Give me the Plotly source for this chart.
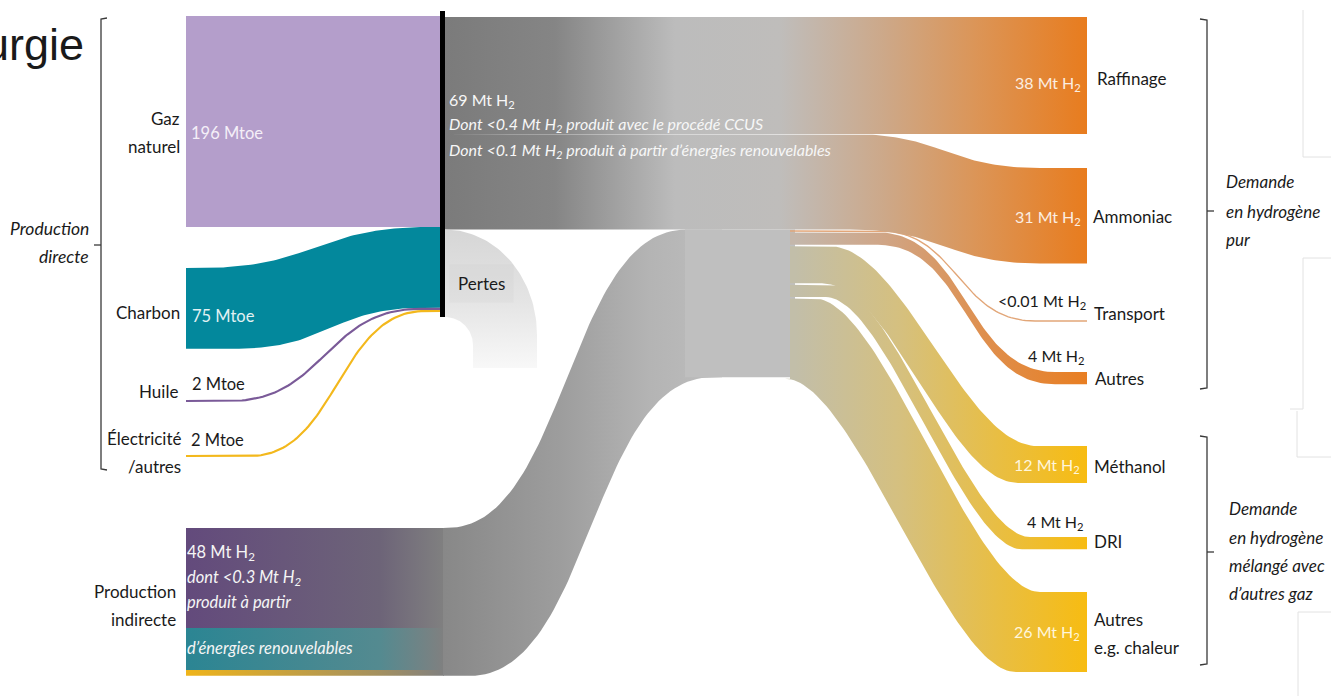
import numpy as np
import plotly.graph_objects as go

# ---------------- data ----------------
direct_sources = ["Gaz naturel", "Charbon", "Huile", "Électricité /autres"]
direct_mtoe = [196, 75, 2, 2]                 # Mtoe
direct_labels = ["196 Mtoe", "75 Mtoe", "2 Mtoe", "2 Mtoe"]
h2_direct = 69                                 # Mt H2 produced directly
h2_indirect = 48                               # Mt H2 indirect production
indirect_parts = [32.5, 13.6, 1.9]             # estimated split of the 48 Mt bar (purple / teal / yellow)
uses = ["Raffinage", "Ammoniac", "Transport", "Autres", "Méthanol", "DRI", "Autres e.g. chaleur"]
uses_mt = [38, 31, 0.01, 4, 12, 4, 26]         # Mt H2
uses_labels = ["38 Mt H<sub>2</sub>", "31 Mt H<sub>2</sub>", "<0.01 Mt H<sub>2</sub>", "4 Mt H<sub>2</sub>",
               "12 Mt H<sub>2</sub>", "4 Mt H<sub>2</sub>", "26 Mt H<sub>2</sub>"]

# ---------------- layout constants (positions / scales / styles) ----------------
W, H = 1331, 696
K_E = 211 / 196      # px per Mtoe
K_H = 3.08           # px per Mt H2
FONT = "Lato"

fig = go.Figure()


def bez(x0, x1, y0, y1, a=0.5, n=70):
    t = np.linspace(0, 1, n)
    L = x1 - x0
    xa, xb = x0 + a * L, x1 - a * L
    x = (1 - t) ** 3 * x0 + 3 * (1 - t) ** 2 * t * xa + 3 * (1 - t) * t ** 2 * xb + t ** 3 * x1
    y = (1 - t) ** 3 * y0 + 3 * (1 - t) ** 2 * t * y0 + 3 * (1 - t) * t ** 2 * y1 + t ** 3 * y1
    return list(x), list(y)


def edge(xa, xb, ya, yb, c, a=0.5):
    bx, by = bez(c[0], c[1], ya, yb, a)
    return [xa] + bx + [xb], [ya] + by + [yb]


def band_poly(xa, xb, ya, yb, th, ct, cb=None, a=0.5):
    cb = cb or ct
    tx, ty = edge(xa, xb, ya, yb, ct, a)
    bx, by = edge(xa, xb, ya + th, yb + th, cb, a)
    return tx + bx[::-1] + [tx[0]], ty + by[::-1] + [ty[0]]


def rect(x0, x1, y0, y1):
    return [x0, x1, x1, x0, x0], [y0, y0, y1, y1, y0]


def fill(xs, ys, stops=None, color=None, orient="horizontal"):
    kw = dict(x=xs, y=ys, mode="lines", line=dict(width=0), fill="toself",
              hoverinfo="skip", showlegend=False)
    if stops:
        lo, hi = stops[0][0], stops[-1][0]
        cs = [[(p - lo) / (hi - lo), c] for p, c in stops]
        kw["fillgradient"] = dict(type=orient, colorscale=cs, start=lo, stop=hi)
    else:
        kw["fillcolor"] = color
    fig.add_trace(go.Scatter(**kw))


def line(xs, ys, color, width):
    fig.add_trace(go.Scatter(x=xs, y=ys, mode="lines", line=dict(color=color, width=width),
                             hoverinfo="skip", showlegend=False))


# ---------------- indirect production ----------------
X_L, X_BAR, X_BLOCK0, X_BLOCK1, X_END = 186, 444, 685, 795, 1087
Y_TOP = 17
y_dir_bot = Y_TOP + h2_direct * K_H
ind_top = 528
ind_th = h2_indirect * K_H
ind_cols = [("#634a7c", "#6d6478"), ("#2b8593", "#548a90"), ("#efb41a", "#a39060")]
cur = ind_top
for v, (c0, c1) in zip(indirect_parts, ind_cols):
    th = v * K_H
    xs, ys = rect(X_L, X_BAR, cur, cur + th)
    fill(xs, ys, stops=[(X_L, c0), (380, c1), (X_BAR, "#808080")])
    cur += th

# S-band up to the mixing block
xs, ys = band_poly(X_BAR - 1, 722, ind_top, y_dir_bot, ind_th, ct=(447, 686), cb=(470, 712))
fill(xs, ys, stops=[(X_BAR, "#888888"), (560, "#9d9d9d"), (650, "#b4b4b4"), (720, "#bdbdbd")])
xs, ys = rect(X_BLOCK0, X_BLOCK1, y_dir_bot, y_dir_bot + ind_th)
fill(xs, ys, color="#bfbfbf")

# ---------------- outputs from the block ----------------
orange_stops = [(X_BLOCK1, "#c4b7ab"), (880, "#cfa688"), (980, "#de9050"), (X_END, "#e87e22")]
yellow_stops = [(X_BLOCK1, "#c2bea9"), (900, "#d5c07f"), (1000, "#e9be42"), (X_END, "#f7bc12")]
dest_top = [None, 168, 321, 372, 446, 537, 592]
# (top-edge curve range, bottom-edge curve range, curve tension)
curves = [None, None,
          ((880, 1035), None, 0.5),
          ((878, 1055), None, 0.5),
          ((830, 1037), (822, 1018), 0.35),
          ((832, 1030), (826, 1022), 0.3),
          ((815, 1040), (785, 1016), 0.3)]
gap = 1.5
cur = y_dir_bot
for i in range(2, 7):
    th = uses_mt[i] * K_H
    cur += gap
    ct, cb, a = curves[i]
    if th < 1.5:
        lx, ly = edge(X_BLOCK1 - 5, X_END, cur, dest_top[i], ct, a)
        line(lx, ly, "#e2a678", 1.4)
        continue
    xs, ys = band_poly(X_BLOCK1 - 5, X_END, cur, dest_top[i], th, ct=ct, cb=cb, a=a)
    fill(xs, ys, stops=orange_stops if i < 4 else yellow_stops)
    cur += th

# ---------------- direct H2 band: raffinage + ammoniac ----------------
main_stops = [(445, "#7b7b7b"), (555, "#858585"), (675, "#bcbcbc"), (780, "#bfbdbb"),
              (880, "#cca98b"), (980, "#dc9455"), (X_END, "#e87c1e")]
th_r = uses_mt[0] * K_H
xs, ys = rect(445, X_END, Y_TOP, Y_TOP + th_r)
fill(xs, ys, stops=main_stops)
xs, ys = band_poly(445, X_END, Y_TOP + th_r, dest_top[1], uses_mt[1] * K_H, ct=(850, 1040))
fill(xs, ys, stops=main_stops)

# ---------------- direct production (left) ----------------
gas_th = direct_mtoe[0] * K_E
xs, ys = rect(X_L, 441, 16, 16 + gas_th)
fill(xs, ys, color="#b49ecb")
right_cur = 16 + gas_th
coal_th = direct_mtoe[1] * K_E
xs, ys = band_poly(X_L, 441, 268, right_cur, coal_th, ct=(200, 430), cb=(235, 425))
fill(xs, ys, color="#03889c")
right_cur += coal_th
thin = [(401, "#7a5a98", (230, 420)), (456, "#f3b81c", (250, 425))]
for v, (ly0, col, c) in zip(direct_mtoe[2:], thin):
    th = v * K_E
    lx, ly = edge(X_L, 441, ly0, right_cur + th / 2, c)
    line(lx, ly, col, max(th, 2))
    right_cur += th

# Pertes (losses)
bar_bot = right_cur + 5
t = np.linspace(-np.pi / 2, 0, 50)
ocy = 335
ox = list(445 + 92 * np.cos(t)); oy = list(ocy + (ocy - y_dir_bot) * np.sin(t))
icy = bar_bot + 28
it = t[::-1]
ix = list(445 + 28 * np.cos(it)); iy = list(icy + 28 * np.sin(it))
px = [445] + ox + [537, 473] + ix + [445]
py = [y_dir_bot] + oy + [368, 368] + iy + [y_dir_bot]
fill(px, py, stops=[(y_dir_bot, "#d6d6d6"), (300, "#e4e4e4"), (368, "#f8f8f8")], orient="vertical")

# black bar
line([442.5, 442.5], [11, bar_bot], "#000000", 5)

# ---------------- brackets & faint frame lines ----------------
bk = "#3a3a3a"
line([107, 101, 101, 107], [18, 19, 469, 470], bk, 1.3)
line([94, 101], [245, 245], bk, 1.3)
line([1200, 1207, 1207, 1200], [19, 20, 388, 389], bk, 1.3)
line([1207, 1214], [211, 211], bk, 1.3)
line([1200, 1207, 1207, 1200], [436, 437, 664, 665], bk, 1.3)
line([1207, 1214], [552, 552], bk, 1.3)
fr = "#e2e2e2"
line([1303, 1303, 1331], [10, 157, 157], fr, 1)
line([1331, 1303, 1303, 1290], [258, 258, 409, 409], fr, 1)
line([1297, 1297, 1331], [411, 457, 457], fr, 1)
line([1331, 1298, 1298], [612, 612, 696], fr, 1)

# ---------------- text ----------------
ann = []


def txt(x, y, s, anchor="left", size=16, color="#1a1a1a", italic=False, fam=FONT, **kw):
    d = dict(x=x, y=y, text=s, xref="x", yref="y", showarrow=False, xanchor=anchor, yanchor="middle",
             font=dict(family=fam, size=size, color=color, style="italic" if italic else "normal"))
    d.update(kw)
    ann.append(d)


txt(86, 44, "urgie", "right", size=45, color="#1a1a1a", fam="Liberation Sans")

txt(182, 118, "Gaz", "right", 17); txt(182, 146, "naturel", "right", 17)
txt(182, 312, "Charbon", "right", 17)
txt(180, 391, "Huile", "right", 17)
txt(183, 438, "Électricité", "right", 17); txt(183, 466, "/autres", "right", 17)
txt(178, 591, "Production", "right", 17); txt(178, 619, "indirecte", "right", 17)
txt(91, 228, "Production", "right", 17.5, italic=True); txt(91, 256, "directe", "right", 17.5, italic=True)

txt(189, 133, direct_labels[0], size=16.5, color="#f4eff8")
txt(190, 316, direct_labels[1], size=16.5, color="#e2f1f3")
txt(190, 384, direct_labels[2], size=16.5)
txt(189, 440, direct_labels[3], size=16.5)

wtxt = "#f5f5f5"
txt(185, 552, f"{h2_indirect} Mt H<sub>2</sub>", size=16.5, color=wtxt)
txt(185, 577, "dont <0.3 Mt H<sub>2</sub>", size=16.5, color=wtxt, italic=True)
txt(185, 602, "produit à partir", size=16.5, color=wtxt, italic=True)
txt(185, 648, "d’énergies renouvelables", size=16.5, color=wtxt, italic=True)

txt(447, 100, f"{h2_direct} Mt H<sub>2</sub>", size=16, color="#f7f7f7")
txt(447, 124, "Dont <0.4 Mt H<sub>2</sub> produit avec le procédé CCUS", size=16, color="#f7f7f7", italic=True)
txt(447, 150, "Dont <0.1 Mt H<sub>2</sub> produit à partir d’énergies renouvelables", size=16,
    color="#f7f7f7", italic=True)
txt(449, 283, "Pertes", size=17, bgcolor="rgba(195,195,195,0.15)", borderpad=8)

val_pos = [(1083, 83, "#fbeee2"), (1083, 217, "#fbeee2"), (1088, 301, "#1a1a1a"), (1087, 356, "#1a1a1a"),
           (1082, 465, "#fff6dc"), (1086, 522, "#1a1a1a"), (1082, 632, "#fff6dc")]
for (x, y, c), s in zip(val_pos, uses_labels):
    txt(x, y, s, "right", 16, color=c)

name_pos = [(1095, 78), (1091, 216), (1092, 313), (1093, 378), (1092, 466), (1092, 541), (1092, 619)]
for (x, y), s in zip(name_pos, uses):
    if s.startswith("Autres e.g."):
        txt(x, y, "Autres", size=17); txt(x, 647, "e.g. chaleur", size=17)
    else:
        txt(x, y, s, size=17)

for y, s in [(181, "Demande"), (211, "en hydrogène"), (239, "pur")]:
    txt(1224, y, s, size=17, italic=True)
for y, s in [(508, "Demande"), (537, "en hydrogène"), (565, "mélangé avec"), (593, "d’autres gaz")]:
    txt(1227, y, s, size=17, italic=True)

fig.update_layout(
    width=W, height=H, margin=dict(l=0, r=0, t=0, b=0),
    paper_bgcolor="white", plot_bgcolor="white", annotations=ann, showlegend=False,
    xaxis=dict(range=[0, W], visible=False, fixedrange=True),
    yaxis=dict(range=[H, 0], visible=False, fixedrange=True),
)
fig.write_html("out.html", config={"displayModeBar": False},
               post_script="document.body.style.margin='0px';document.body.style.padding='0px';")
